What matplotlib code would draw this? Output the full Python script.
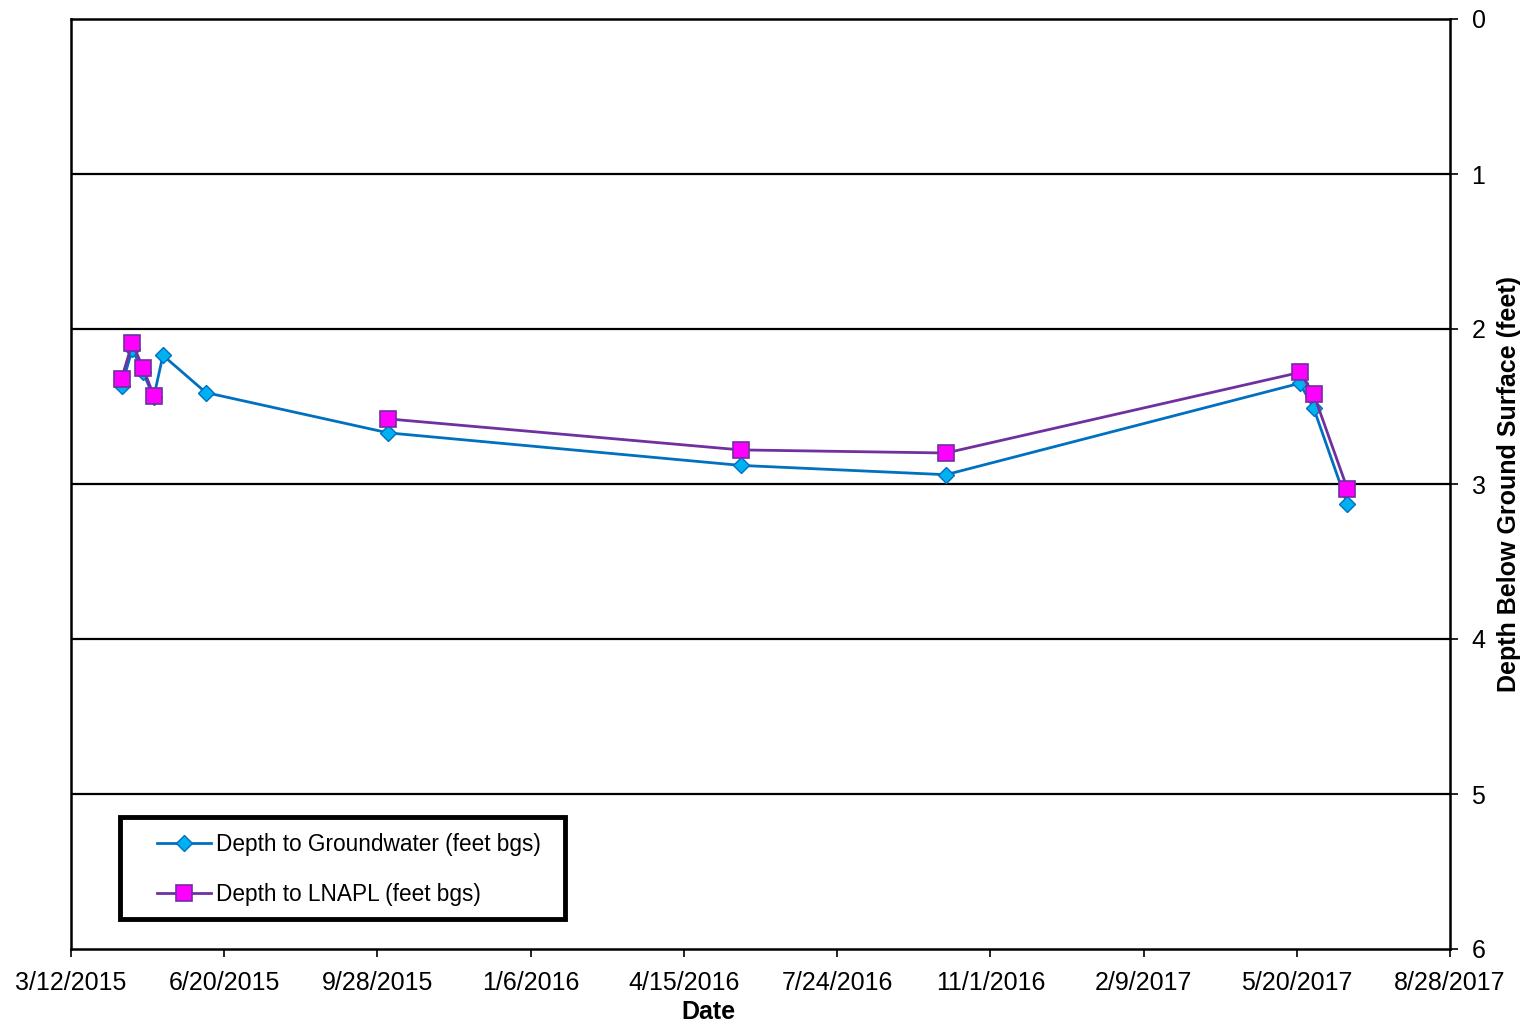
import numpy as np
import pandas as pd
import matplotlib
matplotlib.use("Agg")
import matplotlib.pyplot as plt
from matplotlib.patches import Rectangle

plt.rcParams['font.family'] = ['Liberation Sans', 'DejaVu Sans']

# sampling dates
dates = ['2015-04-14', '2015-04-21', '2015-04-28', '2015-05-05', '2015-05-11',
         '2015-06-08', '2015-10-05', '2016-05-22', '2016-10-03', '2017-05-22',
         '2017-05-31', '2017-06-22']
# depth to groundwater (feet bgs)
gw_depth = [2.37, 2.13, 2.28, 2.44, 2.17, 2.41, 2.67, 2.88, 2.94, 2.35, 2.51, 3.13]
# depth to LNAPL (feet bgs), nan = no LNAPL measured -> gap in line
ln_depth = [2.32, 2.09, 2.25, 2.43, np.nan, np.nan, 2.58, 2.78, 2.80, 2.28, 2.42, 3.03]

dates = pd.to_datetime(dates)

x_start = pd.Timestamp('2015-03-12')
x_end = pd.Timestamp('2017-08-28')
tick_dates = pd.date_range(x_start, x_end, freq='100D')

fig = plt.figure(figsize=(15.24, 10.24), dpi=100)
ax = fig.add_axes([71/1524, 1-949/1024, (1450-71)/1524, (949-19)/1024])

ax.plot(dates, gw_depth, color='#0070C0', lw=2, marker='D', ms=8,
        mfc='#00B0F0', mec='#0070C0', mew=1, label='Depth to Groundwater (feet bgs)')
ax.plot(dates, ln_depth, color='#7030A0', lw=2, marker='s', ms=11,
        mfc='#FF00FF', mec='#7030A0', mew=1.2, label='Depth to LNAPL (feet bgs)')

ax.set_xlim(x_start, x_end)
ax.set_ylim(6, 0)
ax.set_xticks(tick_dates)
ax.set_xticklabels([f'{d.month}/{d.day}/{d.year}' for d in tick_dates])
ax.set_yticks(range(0, 7))
ax.yaxis.tick_right()
ax.yaxis.set_label_position('right')
ax.tick_params(axis='both', labelsize=18, length=5.5, width=1.2, direction='out')
ax.tick_params(axis='y', pad=10)
ax.tick_params(axis='x', pad=10)

for v in range(1, 6):
    ax.axhline(v, color='black', lw=1.6, zorder=0)
for s in ax.spines.values():
    s.set_linewidth(1.8)

ax.set_xlabel('Date', fontsize=18, fontweight='bold')
ax.xaxis.set_label_coords((708-71)/1379, -(1000-949)/930)
ax.set_ylabel('Depth Below Ground Surface (feet)', fontsize=18, fontweight='bold', labelpad=8)

# legend box drawn separately
box = Rectangle(((120-71)/1379, (949-919)/930), 445/1379, 102/930,
                transform=ax.transAxes, fill=True, facecolor='white',
                edgecolor='black', lw=3.5, zorder=5)
ax.add_patch(box)
leg = ax.legend(loc='upper left', bbox_to_anchor=((157-71)/1379, (949-833)/930),
                fontsize=16.3, frameon=False, borderpad=0, labelspacing=1.2,
                handlelength=2.4, handletextpad=0.2, borderaxespad=0)
leg.set_zorder(6)

fig.savefig('out.png', dpi=100)
